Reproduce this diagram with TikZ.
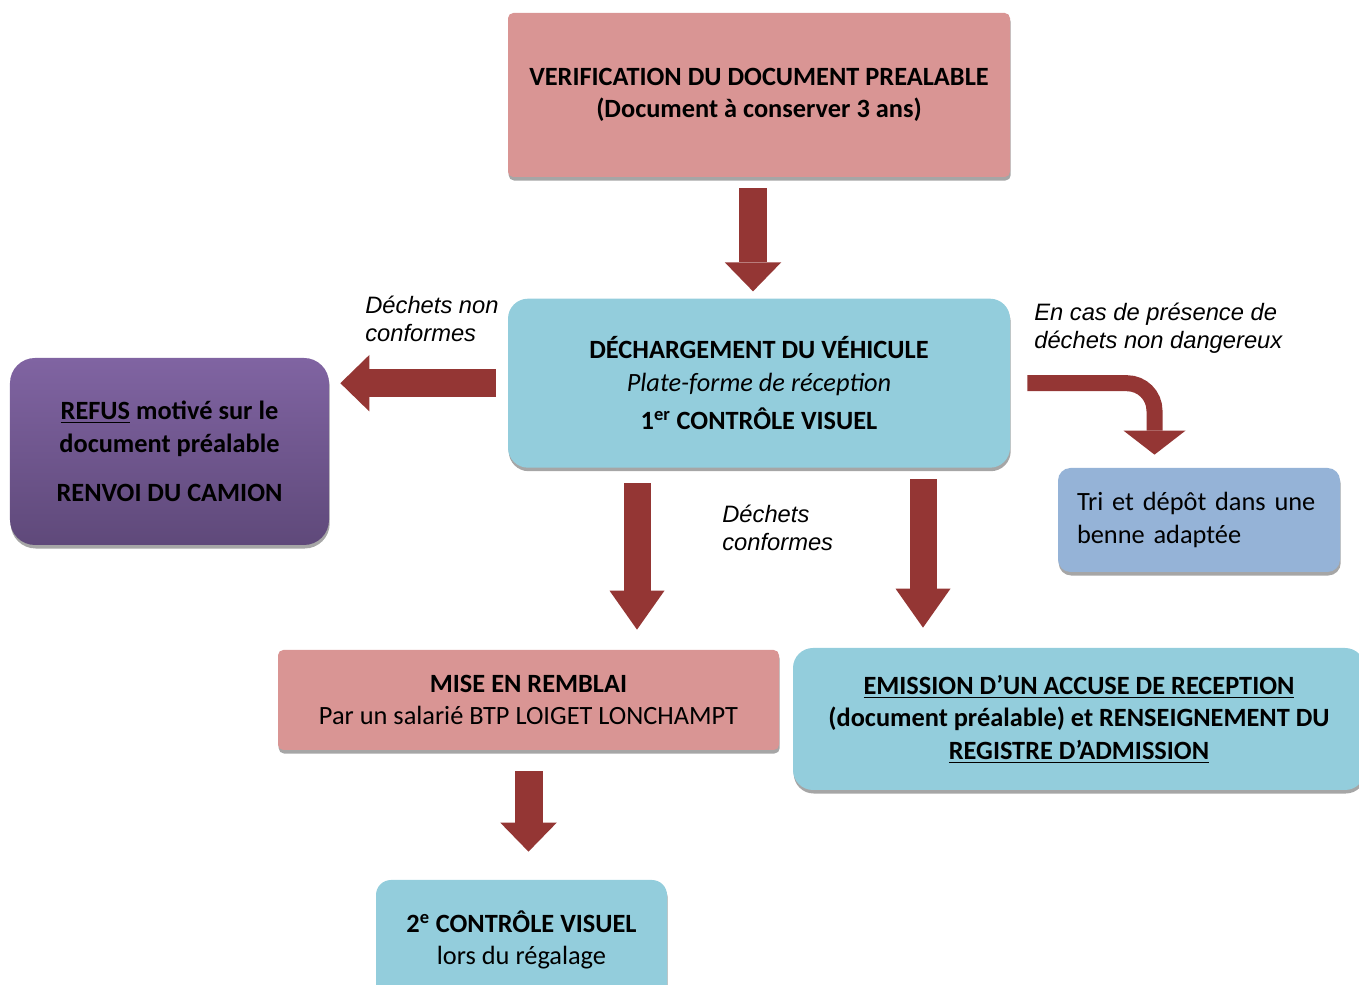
\documentclass[tikz,border=0pt]{standalone}
\usepackage{fontspec}
\setmainfont{Carlito}
\newfontfamily\arialfont{Liberation Sans}
\usepackage{tikz}
\usetikzlibrary{arrows.meta,shadows,positioning}

\definecolor{rosebox}{HTML}{D99594}
\definecolor{bluebox}{HTML}{93CDDC}
\definecolor{greyblue}{HTML}{95B3D7}
\definecolor{purpletop}{HTML}{8064A2}
\definecolor{purplebot}{HTML}{5F497A}
\definecolor{arrowred}{HTML}{943634}

\begin{document}
\begin{tikzpicture}[font=\fontsize{15}{18.5}\selectfont,
  flowbox/.style={rectangle,align=center,inner sep=2pt,
    drop shadow={shadow xshift=0.4pt,shadow yshift=-2pt,fill=black!35,opacity=1}},
  lbl/.style={align=left,inner sep=0pt,
    font=\arialfont\itshape\fontsize{13.5}{16}\selectfont},
  fat arrow/.style={draw=arrowred,line width=0.56cm,
    -{Triangle[length=0.58cm,width=1.13cm,line width=0pt]}},
  slim arrow/.style={draw=arrowred,line width=0.54cm,
    -{Triangle[length=0.78cm,width=1.1cm,line width=0pt]}}]

  \useasboundingbox (0,0) rectangle (27.18,-19.7);

  \node[flowbox,fill=rosebox,rounded corners=3pt,
    minimum width=10.04cm,minimum height=3.28cm] (verif) at (15.18,-1.9)
    {\textbf{VERIFICATION DU DOCUMENT PREALABLE}\\
     \textbf{(Document à conserver 3 ans)}};
  \node[flowbox,fill=bluebox,rounded corners=0.4cm,
    minimum width=10.04cm,minimum height=3.38cm] (dech) [below=2.42cm of verif]
    {\textbf{DÉCHARGEMENT DU VÉHICULE}\\
     \textit{Plate-forme de réception}\\[3.5pt]
     \textbf{1\textsuperscript{er} CONTRÔLE VISUEL}};
  \node[flowbox,top color=purpletop,bottom color=purplebot,rounded corners=0.5cm,
    minimum width=6.38cm,minimum height=3.74cm] (refus) at (3.39,-9.03)
    {\textbf{\underline{REFUS} motivé sur le}\\
     \textbf{document préalable}\\[9.5pt]
     \textbf{RENVOI DU CAMION}};
  \node[flowbox,fill=greyblue,rounded corners=0.25cm,align=left,
    inner xsep=0.38cm,text width=4.88cm,minimum height=2.08cm] (tri) at (23.98,-10.4)
    {Tri et dépôt dans une\\benne adaptée};
  \node[flowbox,fill=rosebox,rounded corners=3pt,
    minimum width=10.02cm,minimum height=2cm] (remb) at (10.57,-14)
    {\textbf{MISE EN REMBLAI}\\Par un salarié BTP LOIGET LONCHAMPT};
  \node[flowbox,fill=bluebox,rounded corners=0.4cm,
    minimum width=11.44cm,minimum height=2.84cm] (emis) at (21.58,-14.38)
    {\textbf{\underline{EMISSION D’UN ACCUSE DE RECEPTION}}\\
     \textbf{(document préalable) et RENSEIGNEMENT DU}\\
     \textbf{\underline{REGISTRE D’ADMISSION}}};
  \node[flowbox,fill=bluebox,rounded corners=0.3cm,
    minimum width=5.82cm,minimum height=2.4cm] (ctrl2) at (10.43,-18.8)
    {\textbf{2\textsuperscript{e} CONTRÔLE VISUEL}\\lors du régalage};

  % texts beside the arrows
  \node[lbl,anchor=north west] (nonconf) at (7.3,-5.92) {Déchets non\\conformes};
  \node[lbl,anchor=north west] (conf) at (14.44,-10.1) {Déchets\\conformes};
  \node[lbl,anchor=north west] (nondang) at (20.68,-6.06)
    {En cas de présence de\\déchets non dangereux};

  \draw[fat arrow,shorten <=0.22cm,shorten >=0.14cm]
    ([xshift=-0.12cm]verif.south) -- ([xshift=-0.12cm]dech.north);
  \draw[fat arrow,shorten <=0.24cm,shorten >=0.22cm]
    (dech.west) -- (dech.west -| refus.east);
  \draw[slim arrow,shorten <=0.3cm,shorten >=0.4cm]
    ([xshift=-2.44cm]dech.south) -- ([xshift=-2.44cm]dech.south |- remb.north);
  \draw[slim arrow,shorten <=0.22cm,shorten >=0.4cm]
    ([xshift=3.28cm]dech.south) -- ([xshift=3.28cm]dech.south |- emis.north);
  \draw[fat arrow,shorten <=0.42cm,shorten >=0.56cm]
    (remb.south) -- (remb.south |- ctrl2.north);
  % bent arrow to the skip
  \draw[draw=arrowred,line width=0.32cm,rounded corners=0.55cm,
    shorten <=0.34cm,shorten >=0.26cm,
    -{Triangle[length=0.48cm,width=1.24cm,line width=0pt]}]
    (dech.east) -| ([xshift=-0.89cm]tri.north);
\end{tikzpicture}
\end{document}
